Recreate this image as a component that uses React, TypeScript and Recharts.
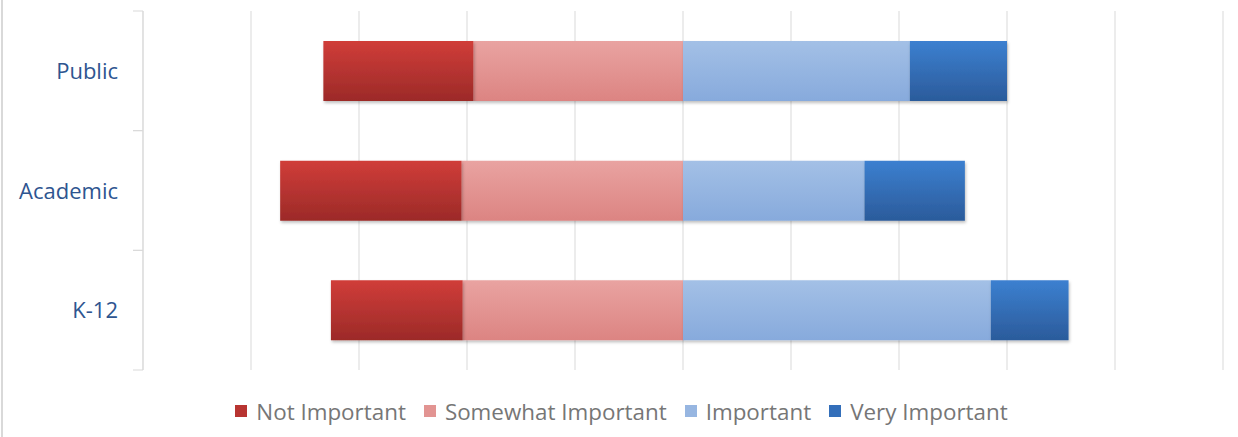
import React from 'react';
import { BarChart, Bar, XAxis, YAxis, CartesianGrid, Legend } from 'recharts';

// Survey groups (top to bottom)
const categories = ['Public', 'Academic', 'K-12'];

// Share of responses, percent
const notImportant = [13.9, 16.8, 12.2];
const somewhatImportant = [19.4, 20.5, 20.4];
const important = [21.0, 16.8, 28.5];
const veryImportant = [9.0, 9.3, 7.2];

// Hidden axis ticks, only used for the vertical gridlines
const xTicks = [-50, -40, -30, -20, -10, 0, 10, 20, 30, 40, 50];

const seriesNames = ['Not Important', 'Somewhat Important', 'Important', 'Very Important'];

// negatives go left of the centre line
const data = categories.map((name, i) => ({
  name,
  ni: -notImportant[i],
  si: -somewhatImportant[i],
  im: important[i],
  vi: veryImportant[i],
}));

const COLORS = {
  ni: { top: '#d03d39', bottom: '#9c2a28', flat: '#b83431' },
  si: { top: '#e9a3a1', bottom: '#dc8482', flat: '#e29492' },
  im: { top: '#a3c0e6', bottom: '#87aadc', flat: '#97b6e1' },
  vi: { top: '#3c80d0', bottom: '#2b5b9b', flat: '#336fba' },
};
const legendKeys: (keyof typeof COLORS)[] = ['ni', 'si', 'im', 'vi'];

const labelFont = '"Open Sans", "DejaVu Sans", sans-serif';

const CategoryTick = (props: any) => {
  const { x, y, payload } = props;
  const half = payload && payload.offset ? payload.offset : 60;
  return (
    <g>
      <line x1={x - 10} x2={x} y1={y - half} y2={y - half} stroke="#d9d9d9" />
      <line x1={x - 10} x2={x} y1={y + half} y2={y + half} stroke="#d9d9d9" />
      <text x={x - 25} y={y} dy={8} textAnchor="end" fill="#2e5590" fontSize={22} fontFamily={labelFont}>
        {payload.value}
      </text>
    </g>
  );
};

const renderLegend = () => (
  <div
    style={{
      display: 'flex',
      justifyContent: 'center',
      alignItems: 'center',
      height: 30,
      paddingLeft: 20,
      fontFamily: labelFont,
      fontSize: 22.4,
      color: '#767676',
    }}
  >
    {legendKeys.map((k, i) => (
      <div key={k} style={{ display: 'flex', alignItems: 'center', marginRight: i < 3 ? 18 : 0 }}>
        <span style={{ width: 12, height: 12, background: COLORS[k].flat, marginRight: 9, display: 'inline-block' }} />
        <span>{seriesNames[i]}</span>
      </div>
    ))}
  </div>
);

export default function App() {
  return (
    <div style={{ position: 'absolute', left: 0, top: 0, width: 1238, height: 437, background: '#fff' }}>
      <div style={{ position: 'absolute', left: 1, top: 0, width: 2, height: 437, background: '#d9d9d9' }} />
      <BarChart
        width={1238}
        height={437}
        data={data}
        layout="vertical"
        stackOffset="sign"
        margin={{ top: 11, right: 15, bottom: 37, left: 0 }}
      >
        <defs>
          {legendKeys.map((k) => (
            <linearGradient key={k} id={`grad-${k}`} x1="0" y1="0" x2="0" y2="1">
              <stop offset="0%" stopColor={COLORS[k].top} />
              <stop offset="100%" stopColor={COLORS[k].bottom} />
            </linearGradient>
          ))}
          <filter id="barShadow" x="-5%" y="-20%" width="110%" height="150%">
            <feDropShadow dx="1" dy="2" stdDeviation="1.5" floodColor="#000" floodOpacity="0.25" />
          </filter>
        </defs>
        <CartesianGrid horizontal={false} stroke="#d9d9d9" />
        <XAxis type="number" domain={[-50, 50]} ticks={xTicks} hide />
        <YAxis
          type="category"
          dataKey="name"
          width={143}
          axisLine={{ stroke: '#d9d9d9' }}
          tickLine={false}
          tickSize={0}
          tickMargin={0}
          tick={<CategoryTick />}
          interval={0}
        />
        <Legend verticalAlign="bottom" wrapperStyle={{ bottom: 11 }} content={renderLegend} />
        <Bar dataKey="si" stackId="s" barSize={60} fill="url(#grad-si)" filter="url(#barShadow)" isAnimationActive={false} />
        <Bar dataKey="ni" stackId="s" barSize={60} fill="url(#grad-ni)" filter="url(#barShadow)" isAnimationActive={false} />
        <Bar dataKey="im" stackId="s" barSize={60} fill="url(#grad-im)" filter="url(#barShadow)" isAnimationActive={false} />
        <Bar dataKey="vi" stackId="s" barSize={60} fill="url(#grad-vi)" filter="url(#barShadow)" isAnimationActive={false} />
      </BarChart>
    </div>
  );
}
